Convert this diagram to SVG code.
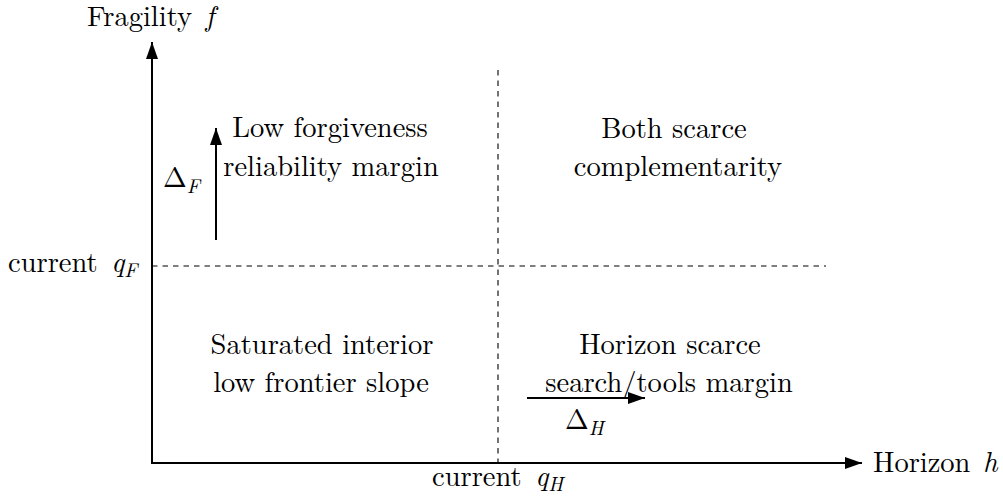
<svg xmlns="http://www.w3.org/2000/svg" width="1003" height="501" viewBox="0 0 1003 501">
<style>
text{font-size:28.5px;fill:#000}
.m{font-style:italic}
.s{font-size:20px;font-style:italic}
.axis{stroke:#000;stroke-width:2;fill:none}
.dash{stroke:#000;stroke-width:1.1;stroke-dasharray:5.5,5;fill:none}
.arr{stroke:#000;stroke-width:2;fill:none}
</style>
<defs>
<marker id="ah2" viewBox="0 0 10 10" refX="10" refY="5" markerWidth="17" markerHeight="12" markerUnits="userSpaceOnUse" orient="auto" preserveAspectRatio="none">
<path d="M0,0 L10,5 L0,10 z" fill="#000"/>
</marker>
</defs>
<g id="connectors">
<line class="axis" x1="152" y1="464" x2="152" y2="42" marker-end="url(#ah2)"/>
<line class="axis" x1="151" y1="463" x2="862" y2="463" marker-end="url(#ah2)"/>
<line class="dash" x1="498" y1="70" x2="498" y2="463"/>
<line class="dash" x1="152" y1="266" x2="826" y2="266"/>
<line class="arr" x1="216" y1="240" x2="216" y2="128" marker-end="url(#ah2)"/>
<line class="arr" x1="527" y1="398" x2="645" y2="398" marker-end="url(#ah2)"/>
</g>
<g font-family="Latin Modern Roman, Liberation Serif, serif">
<g id="axis-labels">
<text x="87" y="26">Fragility <tspan class="m" dx="4">f</tspan></text>
<text x="873" y="472">Horizon <tspan class="m" dx="3">h</tspan></text>
<text x="8" y="272">current <tspan class="m" dx="4">q</tspan><tspan class="s" dy="5">F</tspan></text>
<text x="432" y="486">current <tspan class="m" dx="4">q</tspan><tspan class="s" dy="5">H</tspan></text>
<text x="163" y="187">Δ<tspan class="s" dy="6">F</tspan></text>
<text x="565" y="429">Δ<tspan class="s" dy="6">H</tspan></text>
</g>
<g id="q-low-forgiveness">
<text x="330" y="137" text-anchor="middle">Low forgiveness</text>
<text x="331" y="176" text-anchor="middle">reliability margin</text>
</g>
<g id="q-both-scarce">
<text x="674" y="138" text-anchor="middle">Both scarce</text>
<text x="678" y="176" text-anchor="middle">complementarity</text>
</g>
<g id="q-saturated">
<text x="322" y="354" text-anchor="middle">Saturated interior</text>
<text x="321" y="392" text-anchor="middle">low frontier slope</text>
</g>
<g id="q-horizon-scarce">
<text x="670" y="354" text-anchor="middle">Horizon scarce</text>
<text x="669" y="392" text-anchor="middle">search/tools margin</text>
</g>
</g>
</svg>
